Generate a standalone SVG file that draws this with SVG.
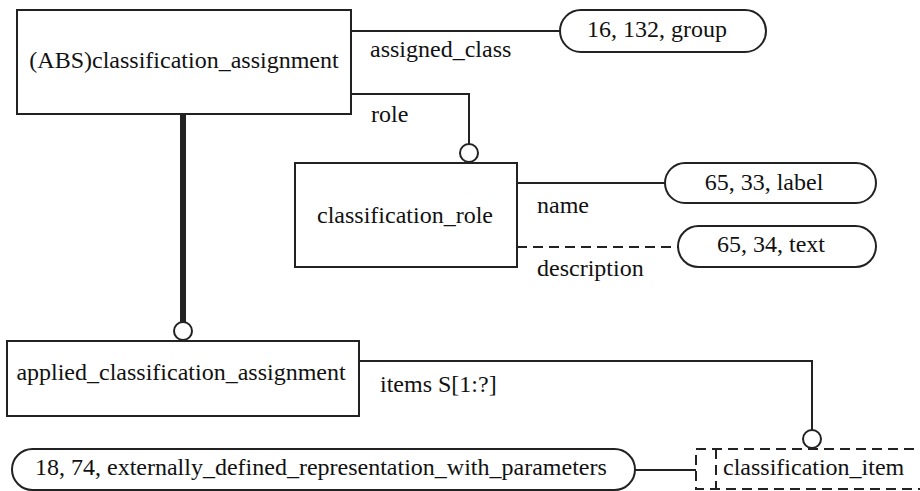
<svg xmlns="http://www.w3.org/2000/svg" width="920" height="491" viewBox="0 0 920 491">
<style>
.box{fill:#fff;stroke:#222;stroke-width:2}
.pill{fill:#fff;stroke:#222;stroke-width:2}
.dbox{fill:#fff;stroke:#222;stroke-width:2;stroke-dasharray:10,6}
.ln{fill:none;stroke:#222;stroke-width:2}
.dash{fill:none;stroke:#222;stroke-width:2;stroke-dasharray:10,6}
.thick{fill:none;stroke:#222;stroke-width:6}
.circ{fill:#fff;stroke:#222;stroke-width:2}
.c{text-anchor:middle}
</style>
<g font-family="'Liberation Serif', 'DejaVu Serif', serif" font-size="24" fill="#111">
<g id="connectors">
<line class="ln" x1="351" y1="31" x2="560" y2="31"/>
<polyline class="ln" points="351,94 469,94 469,144"/>
<circle class="circ" cx="469" cy="153" r="9"/>
<line class="thick" x1="183" y1="114" x2="183" y2="322"/>
<circle class="circ" cx="183" cy="331" r="9"/>
<line class="ln" x1="517" y1="183" x2="665" y2="183"/>
<line class="dash" x1="517" y1="247" x2="678" y2="247"/>
<polyline class="ln" points="359,361 812,361 812,430"/>
<line class="ln" x1="635" y1="470" x2="696" y2="470"/>
<text x="370" y="57">assigned_class</text>
<text x="371" y="122">role</text>
<text x="537" y="213">name</text>
<text x="537" y="276">description</text>
<text x="380" y="392">items S[1:?]</text>
</g>
<g id="classification_assignment">
<rect class="box" x="17" y="10" width="334" height="104"/>
<text class="c" x="184" y="68">(ABS)classification_assignment</text>
</g>
<g id="group">
<rect class="pill" x="560" y="10" width="206" height="42" rx="21"/>
<text class="c" x="657" y="37">16, 132, group</text>
</g>
<g id="classification_role">
<rect class="box" x="295" y="163" width="222" height="104"/>
<text class="c" x="405" y="223">classification_role</text>
</g>
<g id="label">
<rect class="pill" x="665" y="163" width="211" height="40" rx="20"/>
<text class="c" x="764" y="190">65, 33, label</text>
</g>
<g id="text">
<rect class="pill" x="678" y="226" width="198" height="41" rx="20.5"/>
<text class="c" x="771" y="252">65, 34, text</text>
</g>
<g id="applied_classification_assignment">
<rect class="box" x="7" y="341" width="352" height="75"/>
<text class="c" x="181" y="380">applied_classification_assignment</text>
</g>
<g id="externally_defined_representation_with_parameters">
<rect class="pill" x="12" y="449" width="623" height="41" rx="20.5"/>
<text x="35" y="475">18, 74, externally_defined_representation_with_parameters</text>
</g>
<g id="classification_item">
<circle class="circ" cx="812" cy="439" r="9"/>
<rect class="dbox" x="696" y="449" width="240" height="40"/>
<line class="dash" x1="716" y1="449" x2="716" y2="489"/>
<text x="723" y="475">classification_item</text>
</g>
</g>
</svg>
